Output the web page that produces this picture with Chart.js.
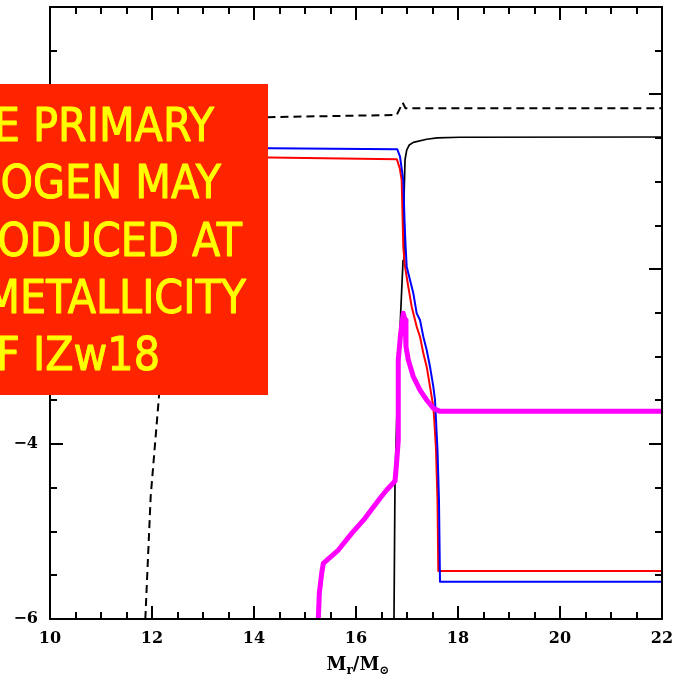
<!DOCTYPE html>
<html>
<head>
<meta charset="utf-8">
<script src="https://cdn.jsdelivr.net/npm/chart.js@4.4.1/dist/chart.umd.min.js"></script>
<style>
  html, body { margin: 0; padding: 0; background: #fff; }
  #wrap { width: 682px; height: 684px; }
</style>
</head>
<body>
<div id="wrap"><canvas id="c" width="682" height="684"></canvas></div>
<script>
// Axis ticks
const xTicks = [10, 12, 14, 16, 18, 20, 22];
const yTicks = [-6, -4, -2, 0];

// Dashed black profile
const dashedX = [11.869, 11.974, 12.131, 12.2, 12.3, 12.45, 12.65, 12.9, 13.2, 13.6, 14.27, 16.798, 16.916, 16.971, 22];
const dashedY = [-6.0, -4.60, -3.495, -3.0, -2.4, -1.8, -1.25, -0.85, -0.55, -0.38, -0.26, -0.235, -0.095, -0.159, -0.159];

// Solid black profile
const blackX = [16.745, 16.765, 16.798, 16.876, 16.922, 16.941, 16.961, 16.994, 17.045, 17.124, 17.386, 17.59, 18.04, 22];
const blackY = [-6.0, -4.41, -3.72, -2.50, -1.90, -1.20, -0.75, -0.636, -0.578, -0.548, -0.513, -0.498, -0.49, -0.487];

// Red profile
const redX = [10, 14.3, 16.80, 16.86, 16.896, 16.927, 16.961, 17.025, 17.092, 17.190, 17.255, 17.320, 17.386, 17.451, 17.516, 17.535, 17.569, 17.598, 17.614, 22];
const redY = [-0.70, -0.72, -0.74, -0.85, -0.979, -1.742, -1.970, -2.199, -2.428, -2.657, -2.771, -2.961, -3.114, -3.343, -3.572, -3.724, -4.067, -4.639, -5.451, -5.451];

// Blue profile
const blueX = [10, 14.3, 16.81, 16.863, 16.927, 16.951, 16.971, 16.994, 17.059, 17.124, 17.190, 17.255, 17.320, 17.386, 17.451, 17.516, 17.549, 17.569, 17.598, 17.627, 17.647, 22];
const blueY = [-0.60, -0.615, -0.628, -0.712, -0.979, -1.436, -1.722, -1.970, -2.122, -2.275, -2.504, -2.580, -2.771, -2.923, -3.114, -3.343, -3.495, -3.724, -4.067, -4.639, -5.573, -5.573];

// Magenta profile
const magentaX = [15.261, 15.281, 15.327, 15.359, 15.653, 15.916, 16.176, 16.471, 16.602, 16.765, 16.798, 16.829, 16.829, 16.876, 16.927, 16.961, 16.980, 17.026, 17.124, 17.255, 17.386, 17.516, 17.647, 22];
const magentaY = [-6.0, -5.706, -5.477, -5.363, -5.211, -5.02, -4.848, -4.619, -4.525, -4.422, -4.20, -3.953, -3.038, -2.733, -2.504, -2.58, -2.885, -3.038, -3.229, -3.381, -3.495, -3.59, -3.625, -3.625];

// Annotation text
const noteLines = ["E PRIMARY", "ROGEN MAY", "RODUCED AT", "METALLICITY", "F IZw18"];

const pts = (xs, ys) => xs.map((x, i) => ({ x: x, y: ys[i] }));

// Frame with inward major/minor ticks on all four sides
const framePlugin = {
  id: 'frame',
  afterDatasetsDraw(chart) {
    const { ctx, chartArea: a, scales } = chart;
    const xs = scales.x, ys = scales.y;
    ctx.save();
    ctx.strokeStyle = '#000';
    ctx.lineWidth = 2;
    ctx.strokeRect(a.left, a.top, a.right - a.left, a.bottom - a.top);
    ctx.beginPath();
    for (let v = xs.min; v <= xs.max + 1e-9; v += 0.5) {
      const p = Math.round(xs.getPixelForValue(v));
      const len = xTicks.includes(v) ? 13 : 7;
      ctx.moveTo(p, a.bottom); ctx.lineTo(p, a.bottom - len);
      ctx.moveTo(p, a.top); ctx.lineTo(p, a.top + len);
    }
    for (let v = ys.min; v <= ys.max + 1e-9; v += 0.5) {
      const p = Math.round(ys.getPixelForValue(v));
      const len = yTicks.includes(v) ? 13 : 7;
      ctx.moveTo(a.left, p); ctx.lineTo(a.left + len, p);
      ctx.moveTo(a.right, p); ctx.lineTo(a.right - len, p);
    }
    ctx.stroke();

    // x-axis title: M_r / M_sun
    const cx = xs.getPixelForValue(16) + 2;
    const base = 670;
    const big = "bold 18px 'DejaVu Serif', serif";
    const small = "bold 12px 'DejaVu Serif', serif";
    ctx.fillStyle = '#000';
    ctx.textBaseline = 'alphabetic';
    ctx.textAlign = 'left';
    const parts = [
      { t: 'M', f: big, dy: 0 },
      { t: 'r', f: small, dy: 4 },
      { t: '/', f: big, dy: 0 },
      { t: 'M', f: big, dy: 0 },
      { t: '\u2299', f: small, dy: 4 }
    ];
    let total = 0;
    parts.forEach(p => { ctx.font = p.f; p.w = ctx.measureText(p.t).width; total += p.w; });
    let x = cx - total / 2;
    parts.forEach(p => { ctx.font = p.f; ctx.fillText(p.t, x, base + p.dy); x += p.w; });
    ctx.restore();
  }
};

// Red note box drawn over the plot
const notePlugin = {
  id: 'note',
  afterDraw(chart) {
    const ctx = chart.ctx;
    const box = { x: 0, y: 84, w: 268, h: 311 };
    ctx.save();
    ctx.fillStyle = 'rgb(255,36,0)';
    ctx.fillRect(box.x, box.y, box.w, box.h);
    ctx.beginPath();
    ctx.rect(box.x, box.y, box.w, box.h);
    ctx.clip();
    ctx.fillStyle = '#ffff00';
    ctx.strokeStyle = '#ffff00';
    ctx.lineWidth = 0.9;
    ctx.lineJoin = 'round';
    ctx.font = "46px 'DejaVu Sans Condensed', 'DejaVu Sans', sans-serif";
    ctx.textAlign = 'right';
    ctx.textBaseline = 'alphabetic';
    const rights = [214, 221, 242, 246, 160];
    const baselines = [141, 198, 256, 313, 370];
    noteLines.forEach((s, i) => {
      ctx.fillText(s, rights[i], baselines[i]);
      ctx.strokeText(s, rights[i], baselines[i]);
    });
    ctx.restore();
  }
};

const tickFont = { family: "'DejaVu Serif', serif", size: 16, weight: 'bold' };

new Chart(document.getElementById('c'), {
  type: 'line',
  data: {
    datasets: [
      { data: pts(magentaX, magentaY), borderColor: 'rgb(255,0,255)', borderWidth: 5, order: 1 },
      { data: pts(blueX, blueY), borderColor: 'rgb(0,0,255)', borderWidth: 2, order: 2 },
      { data: pts(redX, redY), borderColor: 'rgb(255,0,0)', borderWidth: 2, order: 3 },
      { data: pts(blackX, blackY), borderColor: '#000', borderWidth: 1.7, order: 4 },
      { data: pts(dashedX, dashedY), borderColor: '#000', borderWidth: 2, borderDash: [8, 5], order: 5 }
    ]
  },
  options: {
    responsive: false,
    animation: false,
    devicePixelRatio: 1,
    layout: { padding: { top: 7, right: 20, left: 0, bottom: 0 } },
    elements: { point: { radius: 0 }, line: { tension: 0, fill: false, borderCapStyle: 'butt', borderJoinStyle: 'round' } },
    plugins: { legend: { display: false }, tooltip: { enabled: false } },
    scales: {
      x: {
        type: 'linear', min: 10, max: 22,
        grid: { display: false }, border: { display: false },
        afterBuildTicks: s => { s.ticks = xTicks.map(v => ({ value: v })); },
        afterFit: s => { s.height = 65; s.paddingLeft = 0; s.paddingRight = 0; },
        ticks: { color: '#000', font: tickFont, padding: 2, maxRotation: 0 }
      },
      y: {
        type: 'linear', min: -6, max: 1,
        grid: { display: false }, border: { display: false },
        afterBuildTicks: s => { s.ticks = yTicks.map(v => ({ value: v })); },
        afterFit: s => { s.width = 50; s.paddingTop = 0; s.paddingBottom = 0; },
        ticks: { color: '#000', font: tickFont, padding: 4, callback: v => (v < 0 ? '\u2212' + Math.abs(v) : String(v)) }
      }
    }
  },
  plugins: [framePlugin, notePlugin]
});
</script>
</body>
</html>
